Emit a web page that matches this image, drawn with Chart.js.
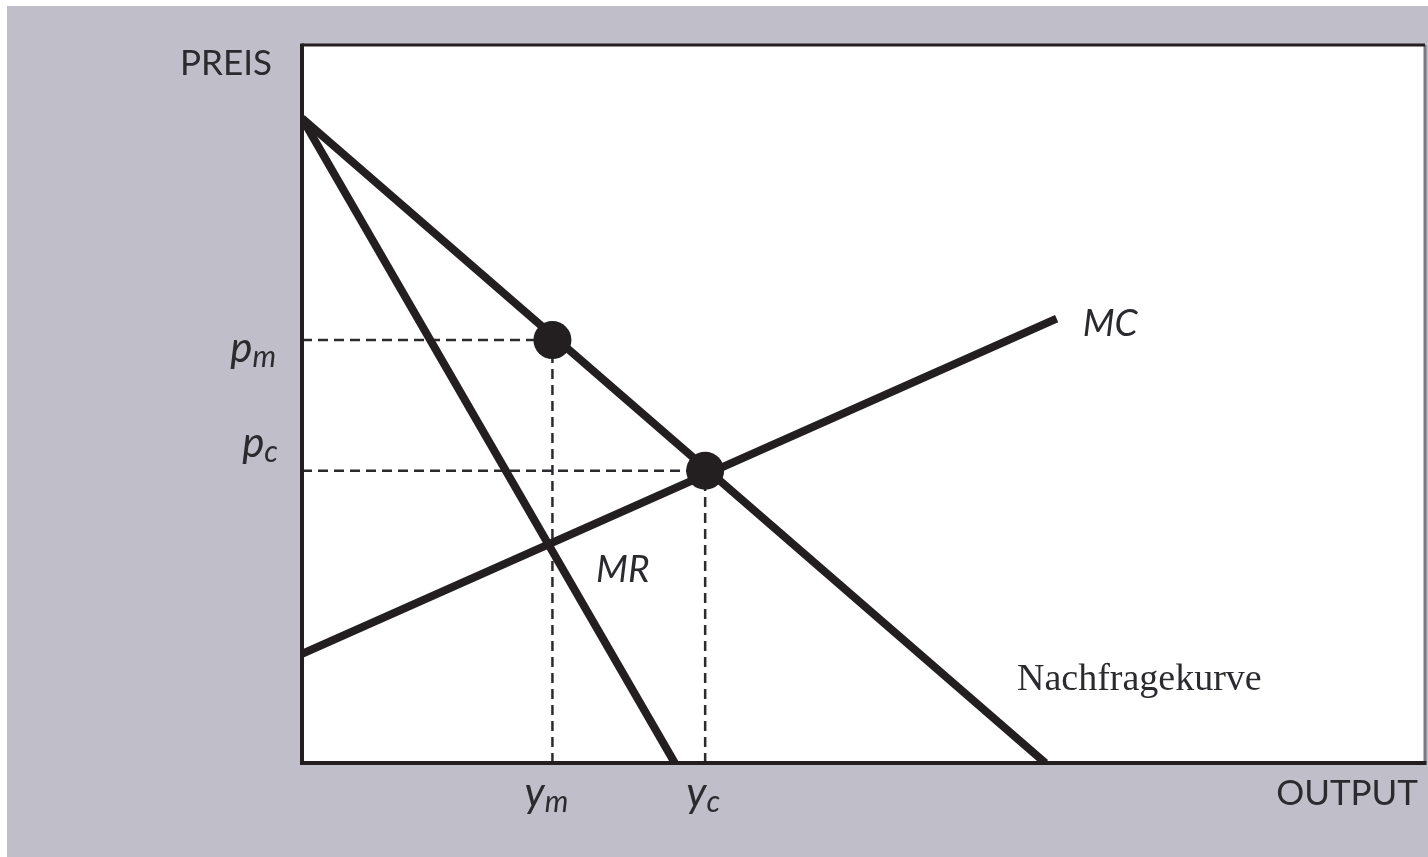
<!DOCTYPE html>
<html>
<head>
<meta charset="utf-8">
<script src="https://cdn.jsdelivr.net/npm/chart.js@4"></script>
<style>
  html, body { margin: 0; padding: 0; overflow: hidden; background: #ffffff; }
  #wrap { width: 1428px; height: 857px; overflow: hidden; }
  canvas { display: block; }
</style>
</head>
<body>
<div id="wrap"><canvas id="chart" width="1428" height="857"></canvas></div>
<script>
// Curve end points (x = output, y = price, both on a 0..100 scale)
const demandX = [0, 66.2];
const demandY = [89.8, 0];
const mrX = [0, 33.2];
const mrY = [89.8, 0];
const mcX = [0, 67.2];
const mcY = [15.2, 61.9];

// Monopoly and competitive equilibria
const eqX = [22.3, 35.9];
const eqY = [58.9, 40.7];

// Axis labels
const priceLabels = [['p', 'm'], ['p', 'c']];
const outputLabels = [['y', 'm'], ['y', 'c']];

const ink = '#231f20';

function toPoints(xs, ys) {
    return xs.map((x, i) => ({ x: x, y: ys[i] }));
}

// Dashed guide lines from each equilibrium to both axes
const guides = [];
eqX.forEach((x, i) => {
    const y = eqY[i];
    guides.push(toPoints([0, x], [y, y]));
    guides.push(toPoints([x, x], [0, y]));
});

const lineStyle = {
    showLine: true,
    borderColor: ink,
    borderWidth: 8,
    borderCapStyle: 'butt',
    pointRadius: 0,
    fill: false
};

// Background, frame and text labels
const decorPlugin = {
    id: 'decor',
    beforeDraw(chart) {
        const ctx = chart.ctx;
        const a = chart.chartArea;
        ctx.save();
        ctx.fillStyle = '#ffffff';
        ctx.fillRect(0, 0, chart.width, chart.height);
        ctx.fillStyle = '#c0bec8';
        ctx.fillRect(7, 6, chart.width - 7, chart.height - 6);
        ctx.fillStyle = '#ffffff';
        ctx.fillRect(a.left, a.top, a.right - a.left, a.bottom - a.top);
        ctx.restore();
    },
    afterDraw(chart) {
        const ctx = chart.ctx;
        const a = chart.chartArea;
        const xs = chart.scales.x;
        const ys = chart.scales.y;
        ctx.save();

        // frame
        ctx.strokeStyle = '#7d7b82';
        ctx.lineWidth = 3;
        ctx.beginPath();
        ctx.moveTo(a.right, a.top);
        ctx.lineTo(a.right, a.bottom);
        ctx.stroke();
        ctx.strokeStyle = ink;
        ctx.lineWidth = 3;
        ctx.beginPath();
        ctx.moveTo(a.left, a.top);
        ctx.lineTo(a.right, a.top);
        ctx.stroke();
        ctx.lineWidth = 4;
        ctx.beginPath();
        ctx.moveTo(a.left, a.top - 1.5);
        ctx.lineTo(a.left, a.bottom);
        ctx.lineTo(a.right + 1.5, a.bottom);
        ctx.stroke();

        ctx.fillStyle = '#2b2a2e';
        ctx.textBaseline = 'alphabetic';

        // axis titles
        ctx.font = '35px Lato';
        ctx.textAlign = 'right';
        ctx.fillText('PREIS', a.left - 30, a.top + 30);
        ctx.fillText('OUTPUT', a.right - 7, a.bottom + 42);

        // subscripted labels
        function sub(label, x, y, align) {
            ctx.font = 'italic 42px Lato';
            const w1 = ctx.measureText(label[0]).width;
            ctx.font = 'italic 30px Lato';
            const w2 = ctx.measureText(label[1]).width;
            const left = align === 'right' ? x - w1 - w2 : x - (w1 + w2) / 2;
            ctx.textAlign = 'left';
            ctx.font = 'italic 42px Lato';
            ctx.fillText(label[0], left, y);
            ctx.font = 'italic 30px Lato';
            ctx.fillText(label[1], left + w1, y + 5);
        }
        sub(priceLabels[0], a.left - 26, ys.getPixelForValue(eqY[0]) + 22, 'right');
        sub(priceLabels[1], a.left - 24, ys.getPixelForValue(eqY[1]) - 14, 'right');
        sub(outputLabels[0], xs.getPixelForValue(eqX[0]) - 6, a.bottom + 44, 'center');
        sub(outputLabels[1], xs.getPixelForValue(eqX[1]) - 2, a.bottom + 44, 'center');

        // curve names
        ctx.textAlign = 'left';
        ctx.font = 'italic 37px Lato';
        ctx.fillText('MC', xs.getPixelForValue(mcX[1]) + 26, ys.getPixelForValue(mcY[1]) + 17);
        ctx.fillText('MR', 596, 582);
        ctx.font = '38px "Liberation Serif"';
        ctx.fillText('Nachfragekurve', 1017, 690);

        ctx.restore();
    }
};

const ctx = document.getElementById('chart').getContext('2d');
new Chart(ctx, {
    type: 'scatter',
    data: {
        datasets: [
            {
                label: 'Equilibria',
                data: toPoints(eqX, eqY),
                pointRadius: 19,
                pointBackgroundColor: ink,
                pointBorderWidth: 0,
                showLine: false
            },
            Object.assign({ label: 'Nachfrage', data: toPoints(demandX, demandY) }, lineStyle),
            Object.assign({ label: 'MR', data: toPoints(mrX, mrY) }, lineStyle),
            Object.assign({ label: 'MC', data: toPoints(mcX, mcY) }, lineStyle)
        ].concat(guides.map((g, i) => ({
            label: 'guide' + i,
            data: g,
            showLine: true,
            borderColor: '#2b2a2e',
            borderWidth: 2.5,
            borderDash: [10, 6],
            pointRadius: 0,
            fill: false
        })))
    },
    options: {
        responsive: false,
        animation: false,
        devicePixelRatio: 1,
        layout: {
            autoPadding: false,
            padding: { left: 302, top: 45, right: 3, bottom: 94 }
        },
        scales: {
            x: { type: 'linear', min: 0, max: 100, display: false },
            y: { type: 'linear', min: 0, max: 100, display: false }
        },
        plugins: {
            legend: { display: false },
            tooltip: { enabled: false }
        }
    },
    plugins: [decorPlugin]
});
</script>
</body>
</html>
